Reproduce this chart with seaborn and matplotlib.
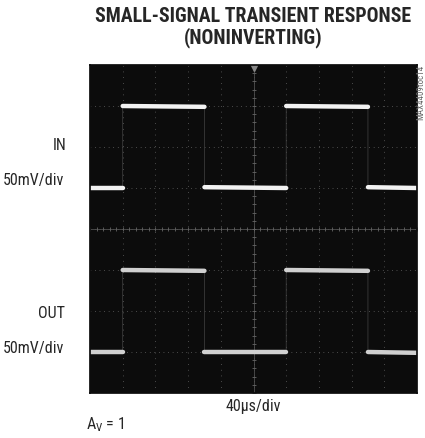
import numpy as np
import pandas as pd
import seaborn as sns
import matplotlib.pyplot as plt

# scope capture (40us/div, 50mV/div)
time_us = [0, 40, 40, 140, 140, 240, 240, 340, 340, 400]
in_mv = [0, 0, 100, 99, 1, 0, 100, 99, 1, 0]
out_mv = [0, 0, 100, 99, 0, 0, 100, 99, 0, -1]

US_PER_DIV = 40
MV_PER_DIV = 50
IN_BASE = 1     # divisions above centre
OUT_BASE = -3

sns.set_theme(style='white')
plt.rcParams['font.family'] = ['Roboto Condensed', 'DejaVu Sans']


def make_df(mv, base):
    df = pd.DataFrame({'t': time_us, 'mv': mv})
    df['x'] = df['t'] / US_PER_DIV
    df['y'] = base + df['mv'] / MV_PER_DIV
    return df


def plateaus(df):
    # split trace into flat parts (pairs of points), leave out the edges
    rows = []
    for i in range(0, len(df), 2):
        seg = df.iloc[i:i + 2].copy()
        seg['seg'] = i // 2
        rows.append(seg)
    return pd.concat(rows)


fig = plt.figure(figsize=(4.25, 4.38), dpi=100)
ax = fig.add_axes([90 / 425, 45 / 438, 327 / 425, 328 / 438])
ax.set_facecolor('#0c0c0c')

# dotted graticule
for gx in range(1, 10):
    ax.axvline(gx, color='#666666', lw=0.7, ls=(0, (0.7, 5.2)))
for gy in range(-3, 4):
    ax.axhline(gy, color='#666666', lw=0.7, ls=(0, (0.7, 4.0)))
ax.axhline(0, color='#505050', lw=0.6)
ax.axvline(5, color='#505050', lw=0.6)
ticks = np.arange(0, 10.01, 0.2)
ax.plot(ticks, np.zeros_like(ticks), ls='none', marker='|', ms=3.5, color='#666666', mew=0.6)
vticks = np.arange(-4, 4.01, 0.2)
ax.plot(np.full_like(vticks, 5), vticks, ls='none', marker='_', ms=3.5, color='#666666', mew=0.6)
ax.plot([5], [3.93], marker='v', ms=4, color='#888888')

for mv, base, col in [(in_mv, IN_BASE, '#f2f2f2'), (out_mv, OUT_BASE, '#d0d0d0')]:
    df = make_df(mv, base)
    df['seg'] = 0
    sns.lineplot(data=df, x='x', y='y', units='seg', estimator=None, ax=ax,
                 color='#444444', lw=0.5, sort=False)
    sns.lineplot(data=plateaus(df), x='x', y='y', units='seg', estimator=None,
                 ax=ax, color=col, lw=3.2, sort=False)

ax.set_xlim(0, 10)
ax.set_ylim(-4, 4)
ax.set_xticks([])
ax.set_yticks([])
ax.set_xlabel('')
ax.set_ylabel('')
for s in ax.spines.values():
    s.set_color('#0c0c0c')


def px(x, y):
    return x / 425, 1 - y / 438


fig.text(*px(253, 17), 'SMALL-SIGNAL TRANSIENT RESPONSE', ha='center', va='center',
         fontsize=14.3, fontweight='bold')
fig.text(*px(253, 38), '(NONINVERTING)', ha='center', va='center',
         fontsize=14.3, fontweight='bold')
fig.text(*px(66, 145), 'IN', ha='right', va='center', fontsize=11.5)
fig.text(*px(3, 181), '50mV/div', ha='left', va='center', fontsize=11.5)
fig.text(*px(65, 313), 'OUT', ha='right', va='center', fontsize=11.5)
fig.text(*px(3, 348), '50mV/div', ha='left', va='center', fontsize=11.5)
fig.text(*px(253, 407), '40\u03bcs/div', ha='center', va='center', fontsize=11.5)
fig.text(*px(86, 425), r'A$_\mathregular{V}$ = 1', ha='left', va='center', fontsize=11.5)
fig.text(*px(421, 65), 'MAX4409toc14', ha='center', va='top', rotation=90,
         fontsize=6.5, color='#666666')

fig.savefig('out.png', dpi=100)
